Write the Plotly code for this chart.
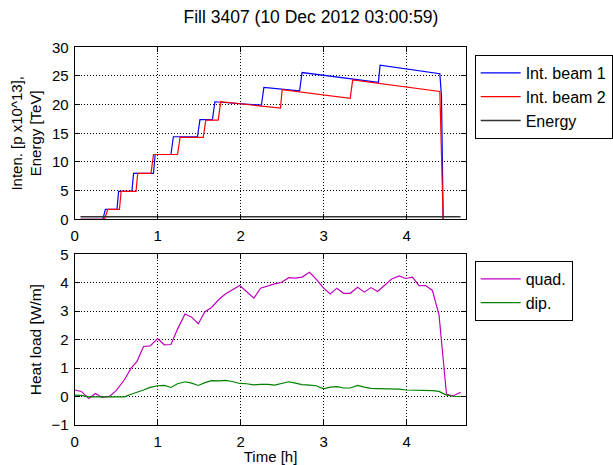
import plotly.graph_objects as go

# ---- data ----
b1_t = [0.07, 0.34, 0.37, 0.51, 0.53, 0.69, 0.71, 0.95, 0.97, 1.16, 1.19, 1.48, 1.51,
        1.66, 1.69, 2.25, 2.28, 2.71, 2.74, 3.66, 3.68, 4.40, 4.42, 4.44]
b1_v = [0, 0, 1.74, 1.74, 4.88, 4.88, 8.0, 8.0, 11.3, 11.3, 14.4, 14.4, 17.4,
        17.4, 20.5, 19.9, 23.0, 22.4, 25.6, 23.9, 26.9, 25.4, 21.4, 0]

b2_t = [0.07, 0.36, 0.40, 0.54, 0.56, 0.74, 0.76, 0.92, 0.95, 1.24, 1.27, 1.55, 1.58,
        1.73, 1.76, 2.48, 2.50, 3.32, 3.35, 4.40, 4.44]
b2_v = [0, 0, 1.74, 1.74, 4.88, 4.88, 8.0, 8.0, 11.3, 11.3, 14.3, 14.3, 17.3,
        17.3, 20.5, 19.4, 22.6, 21.1, 24.3, 22.3, 0]

en_t = [0.07, 4.65]
en_v = [0.45, 0.45]

hl_t = [0.0, 0.08, 0.17, 0.25, 0.33, 0.42, 0.5, 0.6, 0.68, 0.75, 0.83, 0.91, 1.0, 1.08,
        1.16, 1.24, 1.33, 1.41, 1.49, 1.57, 1.65, 1.74, 1.82, 1.9, 1.99, 2.07, 2.16,
        2.24, 2.33, 2.41, 2.49, 2.58, 2.66, 2.74, 2.83, 2.91, 3.0, 3.08, 3.16, 3.24,
        3.32, 3.41, 3.49, 3.57, 3.65, 3.74, 3.82, 3.91, 3.99, 4.07, 4.15, 4.23, 4.31,
        4.39, 4.48, 4.56, 4.65]
quad_v = [0.23, 0.18, -0.07, 0.11, -0.03, 0.0, 0.21, 0.59, 1.0, 1.23, 1.76, 1.78, 2.04,
          1.82, 1.83, 2.37, 2.9, 2.79, 2.56, 2.98, 3.13, 3.42, 3.61, 3.75, 3.9, 3.69,
          3.46, 3.81, 3.9, 3.96, 4.01, 4.18, 4.16, 4.2, 4.37, 4.13, 3.81, 3.61, 3.81,
          3.63, 3.63, 3.84, 3.67, 3.83, 3.69, 3.93, 4.13, 4.24, 4.15, 4.2, 3.9, 3.9,
          3.73, 2.87, 0.09, 0.02, 0.15]
dip_v = [0.05, 0.04, -0.01, -0.01, 0.0, 0.0, -0.02, -0.01, 0.08, 0.14, 0.23, 0.32, 0.38,
         0.39, 0.32, 0.45, 0.52, 0.47, 0.39, 0.49, 0.56, 0.55, 0.57, 0.53, 0.46, 0.45,
         0.41, 0.43, 0.43, 0.4, 0.46, 0.52, 0.47, 0.42, 0.4, 0.38, 0.27, 0.33, 0.35,
         0.3, 0.3, 0.39, 0.33, 0.29, 0.28, 0.28, 0.27, 0.26, 0.23, 0.23, 0.23, 0.22,
         0.21, 0.18, 0.05, 0.01, 0.0]

W, H = 613, 465
FONT = "Liberation Sans, Arial, sans-serif"

fig = go.Figure()
fig.add_trace(go.Scatter(x=b1_t, y=b1_v, mode="lines", name="Int. beam 1",
                         line=dict(color="#0000ff", width=1.2), xaxis="x", yaxis="y", legend="legend"))
fig.add_trace(go.Scatter(x=b2_t, y=b2_v, mode="lines", name="Int. beam 2",
                         line=dict(color="#ff0000", width=1.2), xaxis="x", yaxis="y", legend="legend"))
fig.add_trace(go.Scatter(x=en_t, y=en_v, mode="lines", name="Energy",
                         line=dict(color="#333333", width=1.5), xaxis="x", yaxis="y", legend="legend"))
fig.add_trace(go.Scatter(x=hl_t, y=quad_v, mode="lines", name="quad.",
                         line=dict(color="#bf00bf", width=1.2), xaxis="x2", yaxis="y2", legend="legend2"))
fig.add_trace(go.Scatter(x=hl_t, y=dip_v, mode="lines", name="dip.",
                         line=dict(color="#008000", width=1.2), xaxis="x2", yaxis="y2", legend="legend2"))

xdom = [75 / W, 468.7 / W]
top_dom = [(H - 219.3) / H, (H - 47.3) / H]
bot_dom = [(H - 425.0) / H, (H - 254.3) / H]

axis_common = dict(showline=True, linecolor="black", linewidth=1, mirror="allticks",
                   ticks="inside", ticklen=5, tickcolor="black",
                   showgrid=True, gridcolor="black", gridwidth=1, griddash="1px,2px",
                   zeroline=False, tickfont=dict(size=15, color="black", family=FONT),
                   automargin=False)

fig.update_layout(
    width=W, height=H, autosize=False,
    margin=dict(l=0, r=0, t=0, b=0),
    paper_bgcolor="white", plot_bgcolor="white",
    font=dict(family=FONT, color="black", size=14),
    title=dict(text="Fill 3407 (10 Dec 2012 03:00:59)", x=311 / W, xanchor="center",
               y=(H - 17) / H, yanchor="middle", font=dict(size=17.5)),
    xaxis=dict(domain=xdom, range=[0, 4.72], dtick=1, anchor="y", ticklabelstandoff=3,
               **axis_common),
    yaxis=dict(domain=top_dom, range=[0, 30], dtick=5, anchor="x", ticklabelstandoff=2,
               title=dict(text="Inten. [p x10^13],<br>Energy [TeV]", font=dict(size=15), standoff=6),
               **axis_common),
    xaxis2=dict(domain=xdom, range=[0, 4.72], dtick=1, anchor="y2", ticklabelstandoff=3,
                title=dict(text="Time [h]", font=dict(size=15), standoff=2), **axis_common),
    yaxis2=dict(domain=bot_dom, range=[-1, 5], dtick=1, anchor="x2", ticklabelstandoff=2,
                title=dict(text="Heat load [W/m]", font=dict(size=15.5), standoff=6),
                **axis_common),
    legend=dict(x=477 / W, y=1 - 55 / H, xanchor="left", yanchor="top",
                bordercolor="black", borderwidth=1, bgcolor="white",
                font=dict(size=16), tracegroupgap=0, itemwidth=40),
    legend2=dict(x=477 / W, y=1 - 261 / H, xanchor="left", yanchor="top",
                 bordercolor="black", borderwidth=1, bgcolor="white",
                 font=dict(size=16), tracegroupgap=0, itemwidth=40),
)

fig.write_html("out.html")
